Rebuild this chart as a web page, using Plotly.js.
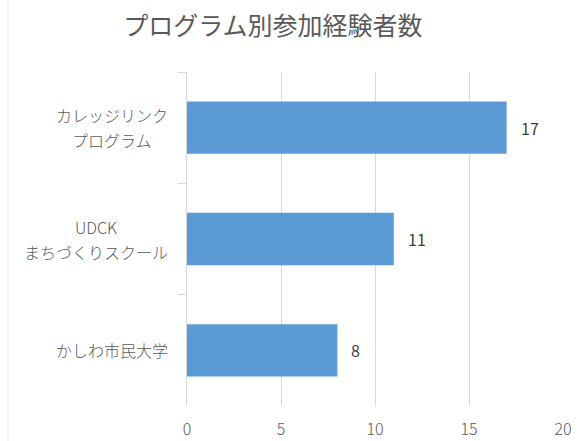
<!DOCTYPE html>
<html><head><meta charset="utf-8">
<script src="https://cdn.plot.ly/plotly-3.0.1.min.js"></script>
<style>html,body{margin:0;padding:0;background:#fff;}#chart{width:577px;height:441px;}</style>
</head><body><div id="chart"></div>
<script>
const categories = ["カレッジリンク<br>プログラム", "UDCK<br>まちづくりスクール", "かしわ市民大学"];
const values = [17, 11, 8];
const xTicks = [0, 5, 10, 15, 20];

const font = "'Noto Sans CJK JP', 'Noto Sans', sans-serif";
const plotW = 577 - 187 - 14;
const lineGap = 25;

const ctx = document.createElement("canvas").getContext("2d");
ctx.font = "300 16px " + font;

const labelAnns = [];
categories.forEach((c) => {
  const lines = c.split("<br>");
  const blockW = Math.max(...lines.map((ln) => ctx.measureText(ln).width));
  lines.forEach((ln, j) => {
    labelAnns.push({
      x: 0, xref: "paper", y: c, yref: "y", text: ln, showarrow: false,
      xanchor: "center", yanchor: "middle", xshift: -19 - blockW / 2,
      yshift: ((lines.length - 1) / 2 - j) * lineGap,
      font: {family: font, size: 16, color: "#595959", weight: 300}
    });
  });
});

Plotly.newPlot("chart", [{
  type: "bar", orientation: "h",
  y: categories, x: values,
  width: 0.47,
  marker: {color: "#5B9BD5"},
  hoverinfo: "none"
}], {
  width: 577, height: 441,
  margin: {l: 187, r: 14, t: 72, b: 35},
  paper_bgcolor: "#fff", plot_bgcolor: "#fff",
  title: {text: "プログラム別参加経験者数", font: {family: font, size: 25, color: "#595959", weight: 400},
          x: 273/577, xanchor: "center", xref: "container", y: 1 - 26/441, yanchor: "middle", yref: "container"},
  xaxis: {range: [0, 20], tickvals: xTicks, showgrid: true, gridcolor: "#d9d9d9", gridwidth: 1,
          zeroline: false, showline: false, ticks: "", ticklabelstandoff: 12,
          tickfont: {family: font, size: 16, color: "#595959", weight: 300}, fixedrange: true},
  yaxis: {autorange: "reversed", type: "category", tickson: "boundaries", ticks: "outside", ticklen: 8,
          tickcolor: "#d9d9d9", showline: true, linecolor: "#d9d9d9", linewidth: 1, showgrid: false,
          showticklabels: false, fixedrange: true},
  annotations: labelAnns.concat(values.map((v, i) => ({
    x: v, y: categories[i], xref: "x", yref: "y", text: String(v), showarrow: false,
    xanchor: "left", xshift: 12, font: {family: font, size: 16, color: "#404040"}
  }))),
  shapes: [{type: "line", xref: "paper", yref: "paper", x0: (8 - 187) / plotW, x1: (8 - 187) / plotW, y0: -0.2, y1: 1.3,
            line: {color: "#e6e6e6", width: 1}}],
  showlegend: false
}, {displayModeBar: false, staticPlot: true});
</script></body></html>
